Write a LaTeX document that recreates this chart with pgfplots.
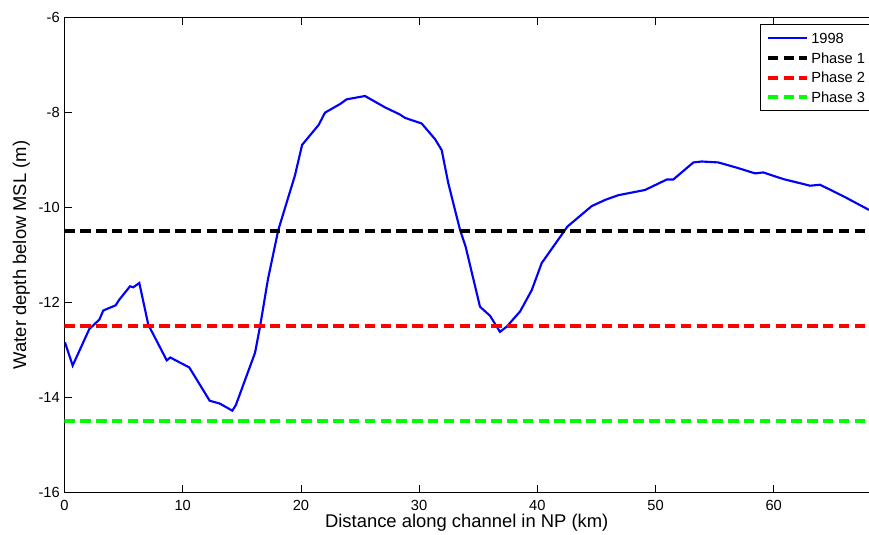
\documentclass[border=0pt]{standalone}
\usepackage{fontspec}
\setmainfont{Liberation Sans}
\usepackage{pgfplots}
\pgfplotsset{compat=1.18}
\newlength\px
\setlength\px{0.75pt}
\begin{document}
\begin{tikzpicture}
\begin{axis}[
  scale only axis,
  width=804.5\px, height=474.6\px,
  xmin=0, xmax=68.06,
  ymin=-16, ymax=-6,
  xtick={0,10,...,60},
  ytick={-16,-14,...,-6},
  axis x line*=box,
  axis y line*=left,
  tick align=inside,
  major tick length=7.5\px,
  axis line style={line width=1pt},
  every tick/.style={black, line width=0.6pt},
  tick label style={font=\fontsize{11}{13}\selectfont},
  /pgf/number format/assume math mode=true,
  xticklabel style={anchor=base, yshift=-18.4\px},
  label style={font=\fontsize{13.8}{16}\selectfont},
  xlabel={Distance along channel in NP (km)},
  ylabel={Water depth below MSL (m)},
  xlabel style={at={(axis description cs:0.5,-0.0652)}, anchor=center},
  ylabel style={at={(axis description cs:-0.0536,0.5)}, anchor=center},
  legend style={at={(rel axis cs:0.8645,0.9861)}, anchor=north west,
    draw=none, fill=none,
    inner xsep=5.5\px, inner ysep=8.5\px, row sep=9.2\px,
    font=\fontsize{11}{13}\selectfont,
    nodes={inner xsep=2.5\px, inner ysep=0pt, text height=10.5\px, text depth=0pt}},
  legend cell align=left,
  legend image code/.code={\draw[#1] (0,0) -- (39\px,0);},
]
\addplot[color={rgb,255:red,0;green,0;blue,255}, line width=1.6pt] coordinates {
  (0.04,-12.84) (0.69,-13.33) (2.1,-12.56) (2.95,-12.36) (3.28,-12.17)
  (4.33,-12.06) (4.61,-11.95) (5.54,-11.66) (5.82,-11.68) (6.33,-11.59)
  (7.09,-12.47) (8.65,-13.22) (8.95,-13.16) (10.56,-13.37) (12.28,-14.07)
  (13.13,-14.13) (14.2,-14.28) (14.5,-14.16) (16.12,-13.06) (16.54,-12.51)
  (17.22,-11.5) (18.09,-10.47) (19.5,-9.32) (20.1,-8.68) (21.5,-8.26)
  (22.04,-8.0) (23.31,-7.82) (23.87,-7.72) (25.42,-7.65) (27.12,-7.89)
  (28.38,-8.04) (28.8,-8.11) (30.22,-8.23) (31.35,-8.56) (31.91,-8.79)
  (32.47,-9.49) (33.46,-10.47) (33.94,-10.83) (35.15,-12.09) (36.0,-12.28)
  (36.84,-12.62) (37.41,-12.51) (38.54,-12.19) (39.53,-11.74) (40.37,-11.17)
  (42.55,-10.40) (44.6,-9.97) (45.73,-9.84) (46.85,-9.74) (49.11,-9.63)
  (50.95,-9.41) (51.5,-9.41) (53.2,-9.05) (53.91,-9.03) (55.31,-9.05)
  (56.87,-9.16) (58.42,-9.28) (59.12,-9.26) (60.81,-9.40) (63.07,-9.54)
  (63.92,-9.52) (66.03,-9.78) (68.06,-10.05)
};
\addlegendentry{1998}
\addplot[black, line width=3pt, dash pattern=on 10.5\px off 5.3\px] coordinates {(0,-10.5) (68.06,-10.5)};
\addlegendentry{Phase 1}
\addplot[color={rgb,255:red,255;green,0;blue,0}, line width=3pt, dash pattern=on 10.5\px off 5.3\px] coordinates {(0,-12.5) (68.06,-12.5)};
\addlegendentry{Phase 2}
\addplot[color={rgb,255:red,0;green,255;blue,0}, line width=3pt, dash pattern=on 10.5\px off 5.3\px] coordinates {(0,-14.5) (68.06,-14.5)};
\addlegendentry{Phase 3}
\coordinate (bl) at (rel axis cs:0,0);
\coordinate (tr) at (rel axis cs:1,1);
\coordinate (lgtl) at (rel axis cs:0.8645,0.9861);
\coordinate (lgbl) at (rel axis cs:0.8645,0.8049);
\end{axis}
% legend frame: open on the right, where the reference crops it
\draw[black, line width=0.5pt] ([xshift=150\px]lgtl) -- (lgtl) -- (lgbl) -- ([xshift=150\px]lgbl);
\pgfresetboundingbox
\path[use as bounding box] ([shift={(-64.5\px,-42.7\px)}]bl) rectangle ([shift={(0pt,17.7\px)}]tr);
\end{tikzpicture}
\end{document}
